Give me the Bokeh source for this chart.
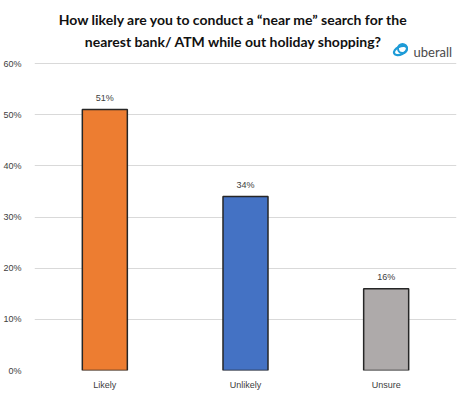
from bokeh.plotting import figure
from bokeh.models import ColumnDataSource, FactorRange, Range1d, NumeralTickFormatter, FixedTicker, Label
from bokeh.core.properties import value
from bokeh.embed import file_html
from bokeh.resources import INLINE

categories = ["Likely", "Unlikely", "Unsure"]
shares = [0.51, 0.34, 0.16]
colors = ["#ED7D31", "#4472C4", "#AEAAAA"]
y_ticks = [0, 0.1, 0.2, 0.3, 0.4, 0.5, 0.6]
title_lines = ["How likely are you to conduct a \u201cnear me\u201d search for the",
               "nearest bank/ ATM while out holiday shopping?"]

FRAME_W, FRAME_H = 422, 370
GRID_TOP = 0.6
GRID_PIX = 63
Y_END = GRID_TOP * FRAME_H / (FRAME_H - GRID_PIX)

def ypix(py):
    # pixel from top of frame -> data value
    return Y_END - py / FRAME_H * Y_END

def xpix(px):
    return px / FRAME_W * len(categories)

src = ColumnDataSource(dict(cat=categories, val=shares, color=colors,
                            lab=["%d%%" % round(v * 100) for v in shares]))

p = figure(x_range=FactorRange(*categories, range_padding=0), y_range=Range1d(0, Y_END),
           frame_width=FRAME_W, frame_height=FRAME_H,
           min_border_left=24, min_border_right=2, min_border_top=0, min_border_bottom=19,
           output_backend="svg", toolbar_location=None, background_fill_color="white")
p.outline_line_color = None

p.vbar(x="cat", top="val", width=0.32, source=src, fill_color="color",
       line_color="#262626", line_width=1.5)
p.text(x="cat", y="val", text="lab", source=src, text_align="center", text_baseline="bottom",
       y_offset=-7, text_font=value("Liberation Sans"), text_font_size="9px", text_color="#404040")

p.xgrid.grid_line_color = None
p.ygrid.grid_line_color = "#D9D9D9"
p.ygrid.grid_line_width = 1
p.yaxis.ticker = FixedTicker(ticks=y_ticks)
p.yaxis.formatter = NumeralTickFormatter(format="0%")
for ax in (p.xaxis, p.yaxis):
    ax.axis_line_color = None
    ax.major_tick_line_color = None
    ax.minor_tick_line_color = None
    ax.major_label_text_font = "Liberation Sans"
    ax.major_label_text_font_size = "9px"
    ax.major_label_text_color = "#404040"
p.yaxis.major_label_standoff = 7
p.xaxis.major_label_standoff = 3

# title lines (centre positions from top of frame)
for line, mid in zip(title_lines, [19, 41]):
    p.add_layout(Label(x=xpix(199), y=ypix(mid), text=line, text_align="center",
                       text_baseline="middle", text_font="Lato", text_font_style="bold",
                       text_font_size="14px", text_color="#111111"))

# logo
p.ellipse(x=[xpix(366)], y=[ypix(50)], width=14, height=8, width_units="screen",
          height_units="screen", angle=0.45, fill_color=None, line_color="#1E9BD7", line_width=2.2)
p.ellipse(x=[xpix(368)], y=[ypix(48)], width=9, height=9, width_units="screen",
          height_units="screen", fill_color=None, line_color="#1E9BD7", line_width=2)
p.add_layout(Label(x=xpix(379), y=ypix(51), text="uberall", text_align="left",
                   text_baseline="middle", text_font="Lato",
                   text_font_size="13px", text_color="#4a4a4a"))

open("out.html", "w").write(file_html(p, INLINE))
